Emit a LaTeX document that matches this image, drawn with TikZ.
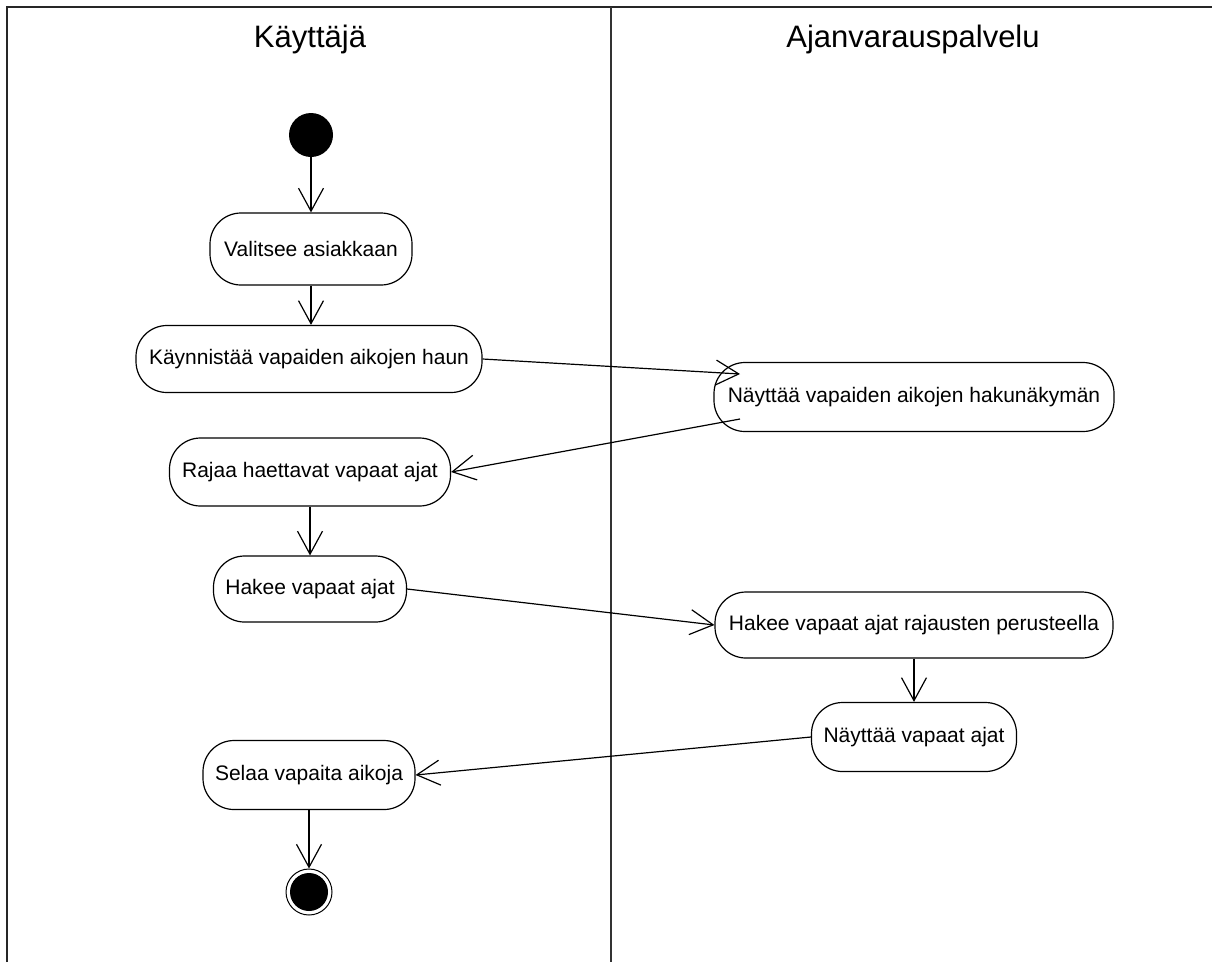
\documentclass[tikz,border=0pt]{standalone}
\usepackage{fontspec}
\setmainfont{Liberation Sans}
\usetikzlibrary{arrows.meta,calc}
\begin{document}
\begin{tikzpicture}[x=1pt,y=-1pt,
  lane/.style={draw=black!80, line width=2pt},
  act/.style={draw, line width=1.2pt, rounded corners=31pt, minimum height=68pt, inner sep=0pt, font=\fontsize{21}{25}\selectfont},
  flow/.style={draw, line width=1.2pt, -{Straight Barb[length=23pt,width=25pt]}},
  lanetitle/.style={font=\fontsize{31}{36}\selectfont, anchor=base, inner sep=0pt}
]
\useasboundingbox (0,0) rectangle (1212,962);
% frame
\coordinate (tl) at (7,7);
\coordinate (tr) at (1212,7);
\coordinate (bl) at (7,962);
\coordinate (dt) at (611,7);
\coordinate (db) at (611,962);
\draw[line width=1.5pt, black!85] (bl) -- (tl) -- (tr);
\draw[lane] (dt) -- (db);
\node[lanetitle] (t1) at (310,47) {Käyttäjä};
\node[lanetitle] (t2) at (913,47) {Ajanvarauspalvelu};
% nodes
\node[circle, fill, minimum size=44pt, inner sep=0pt] (start) at (311,135) {};
\node[act, minimum width=202pt, minimum height=72pt] (n1) at (311,249) {Valitsee asiakkaan};
\node[act, minimum width=346pt, minimum height=67pt] (n2) at (309,359) {Käynnistää vapaiden aikojen haun};
\node[act, minimum width=281pt] (n3) at (310,472) {Rajaa haettavat vapaat ajat};
\node[act, minimum width=193pt, minimum height=66pt] (n4) at (310,589) {Hakee vapaat ajat};
\node[act, minimum width=400pt, minimum height=69pt] (n5) at (914,397) {Näyttää vapaiden aikojen hakunäkymän};
\node[act, minimum width=398pt, minimum height=66pt] (n6) at (914,625) {Hakee vapaat ajat rajausten perusteella};
\node[act, minimum width=205pt, minimum height=69pt] (n7) at (914,737) {Näyttää vapaat ajat};
\node[act, minimum width=212pt, minimum height=69pt] (n8) at (309,775) {Selaa vapaita aikoja};
\node[circle, draw, line width=1pt, minimum size=46pt, inner sep=0pt] (end) at (309,892) {};
\node[circle, fill, minimum size=38pt, inner sep=0pt] (endfill) at (end.center) {};
% connectors
\draw[flow] (start.south) -- (n1.north);
\draw[flow] (n1.south) -- (n1.south |- n2.north);
\draw[flow] (n2.east) -- ($(n5.center)+(-174,-23)$);
\draw[flow] ($(n5.center)+(-174,22)$) -- (n3.east);
\draw[flow] (n3.south) -- (n4.north);
\draw[flow] (n4.east) -- (n6.west);
\draw[flow] (n6.south) -- (n7.north);
\draw[flow] (n7.west) -- (n8.east);
\draw[flow] (n8.south) -- (end.north);
\end{tikzpicture}
\end{document}
